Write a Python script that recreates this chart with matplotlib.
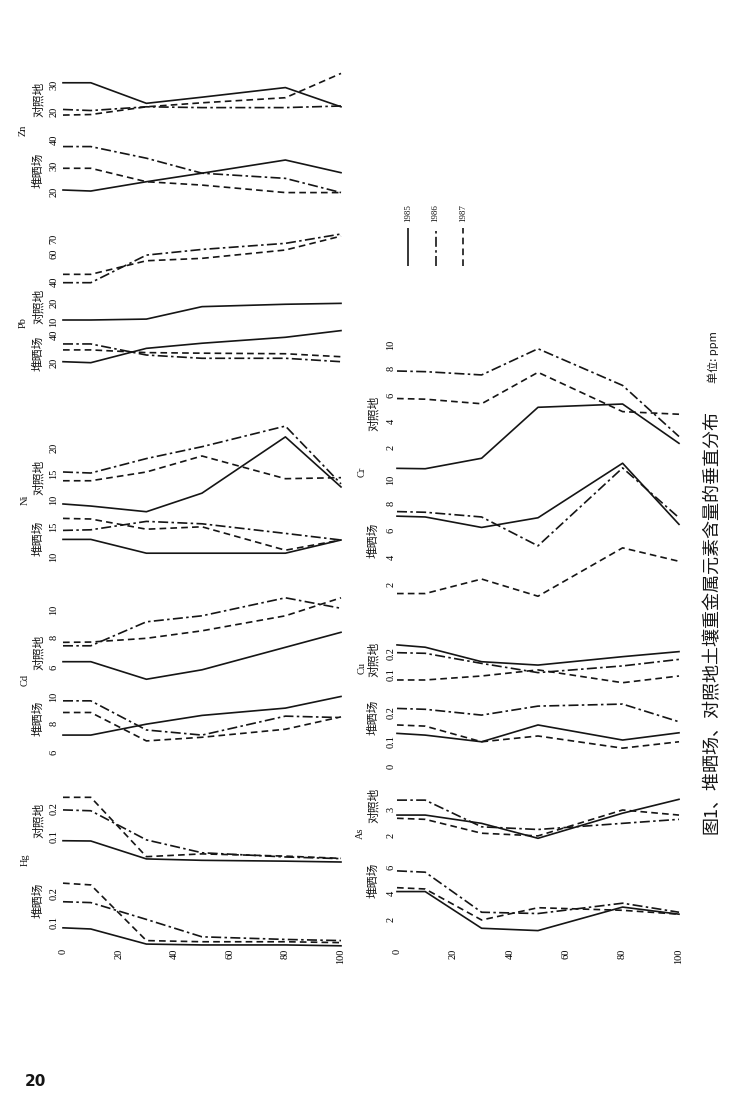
import matplotlib
matplotlib.use('Agg')
import matplotlib.pyplot as plt

plt.rcParams['font.family'] = ['Noto Sans CJK SC', 'DejaVu Sans']

# 深度 (cm) 与年份
depth = [0, 10, 30, 50, 80, 100]
depth_ticks = [0, 20, 40, 60, 80, 100]
years = ['1985', '1986', '1987']

# 每组三条线: 1985, 1986, 1987 (ppm)
zn_dz = [[30.2, 30.2, 22.5, 24.8, 28.4, 21.2],
         [20.2, 19.8, 21.2, 20.9, 20.9, 21.5],
         [18.1, 18.3, 21.2, 22.7, 24.6, 33.7]]
zn_ds = [[20.0, 19.6, 23.2, 26.5, 31.6, 26.7],
         [36.8, 36.8, 32.3, 26.5, 24.5, 19.0],
         [28.4, 28.4, 23.2, 21.9, 19.0, 19.0]]
pb_dz = [[10.0, 10.0, 10.5, 17.3, 18.6, 19.1],
         [38.1, 38.1, 57.6, 61.6, 65.9, 72.5],
         [44.0, 44.0, 53.6, 55.3, 61.2, 71.0]]
pb_ds = [[20.0, 19.3, 29.4, 33.0, 37.2, 41.9],
         [32.5, 32.5, 24.7, 22.4, 22.4, 20.0],
         [28.3, 28.3, 26.4, 26.0, 25.6, 23.5]]
ni_dz = [[8.9, 8.5, 7.4, 11.0, 21.9, 12.2],
         [15.1, 14.9, 17.7, 20.0, 24.0, 12.8],
         [13.4, 13.4, 15.1, 18.2, 13.8, 14.0]]
ni_ds = [[12.6, 12.6, 10.3, 10.3, 10.3, 12.5],
         [14.1, 14.2, 15.6, 15.2, 13.6, 12.5],
         [16.1, 16.0, 14.3, 14.7, 10.8, 12.5]]
cd_dz = [[6.44, 6.44, 5.27, 5.9, 7.4, 8.4],
         [7.5, 7.5, 9.1, 9.5, 10.7, 10.0],
         [7.73, 7.75, 8.0, 8.5, 9.5, 10.7]]
cd_ds = [[7.25, 7.25, 8.0, 8.6, 9.1, 9.9],
         [9.6, 9.6, 7.6, 7.25, 8.55, 8.45],
         [8.8, 8.8, 6.85, 7.1, 7.65, 8.5]]
hg_dz = [[0.076, 0.075, 0.011, 0.006, 0.003, 0.0],
         [0.186, 0.183, 0.079, 0.033, 0.018, 0.012],
         [0.231, 0.231, 0.019, 0.029, 0.021, 0.013]]
hg_ds = [[0.073, 0.069, 0.017, 0.014, 0.014, 0.011],
         [0.163, 0.160, 0.102, 0.042, 0.033, 0.029],
         [0.227, 0.221, 0.029, 0.025, 0.025, 0.022]]
cr_dz = [[0.47, 0.44, 1.24, 5.13, 5.38, 2.38],
         [7.9, 7.85, 7.6, 9.6, 6.8, 2.9],
         [5.8, 5.75, 5.4, 7.8, 4.8, 4.6]]
cr_ds = [[7.16, 7.1, 6.32, 7.04, 11.1, 6.55],
         [7.5, 7.45, 7.1, 4.95, 10.75, 7.04],
         [1.4, 1.4, 2.48, 1.2, 4.8, 3.8]]
cu_dz = [[0.229, 0.218, 0.149, 0.133, 0.173, 0.197],
         [0.192, 0.189, 0.141, 0.097, 0.129, 0.160],
         [0.062, 0.062, 0.081, 0.110, 0.049, 0.081]]
cu_ds = [[0.117, 0.111, 0.088, 0.146, 0.094, 0.119],
         [0.203, 0.200, 0.180, 0.211, 0.218, 0.157],
         [0.146, 0.142, 0.088, 0.108, 0.066, 0.088]]
as_dz = [[2.81, 2.81, 2.5, 1.94, 2.88, 3.4],
         [3.37, 3.37, 2.37, 2.27, 2.5, 2.65],
         [2.69, 2.65, 2.13, 2.03, 3.0, 2.81]]
as_ds = [[4.2, 4.2, 1.36, 1.18, 3.0, 2.45],
         [5.8, 5.7, 2.6, 2.5, 3.3, 2.6],
         [4.5, 4.4, 2.0, 2.95, 2.75, 2.45]]

W, H = 740, 1097
INK = '#151515'
styles = [dict(ls='-'), dict(dashes=(6, 2, 1.5, 2)), dict(dashes=(4, 2.5))]

fig = plt.figure(figsize=(W / 100, H / 100), dpi=100)
fig.patch.set_facecolor('white')

LEFT = (63, 341)
RIGHT = (397, 679)


def panel(col, ytop, ybot, cal, ticks, labels, pad):
    # cal: 两个刻度值及其在页面上的像素高度
    (v1, p1), (v2, p2) = cal
    k = (v2 - v1) / (p1 - p2)
    x0, x1 = col
    ax = fig.add_axes([x0 / W, 1 - ybot / H, (x1 - x0) / W, (ybot - ytop) / H])
    ax.set_xlim(0, 100)
    ax.set_ylim(v1 - (ybot - p1) * k, v1 + (p1 - ytop) * k)
    for s in ax.spines.values():
        s.set_visible(False)
    ax.patch.set_alpha(0)
    ax.set_xticks([])
    ax.set_yticks(ticks)
    ax.set_yticklabels(labels, rotation=90, fontsize=7.5, family='Liberation Serif')
    ax.tick_params(axis='y', length=0, pad=pad)
    return ax


def draw(ax, series, sty):
    for vals, st in zip(series, sty):
        ax.plot(depth, vals, color=INK, lw=1.2, clip_on=False, **st)


def rot_text(xpx, ypx, s, size, **kw):
    fig.text(xpx / W, 1 - ypx / H, s, rotation=90, ha='center', va='center',
             fontsize=size, color=INK, **kw)


def depth_axis(ax):
    ax.set_xticks(depth_ticks)
    ax.set_xticklabels([str(d) for d in depth_ticks], rotation=90, fontsize=7.5,
                       family='Liberation Serif')
    ax.tick_params(axis='x', length=0, pad=1.5)


# 左列
ax = panel(LEFT, 70, 120, ((20, 110), (30, 83.3)), [20, 30], ['20', '30'], 3.2)
draw(ax, zn_dz, styles)
ax = panel(LEFT, 135, 200, ((20, 190), (40, 138.3)), [20, 30, 40], ['20', '30', '40'], 3.2)
draw(ax, zn_ds, styles)

ax = panel(LEFT, 228, 290, ((40, 280), (60, 251.7)), [40, 60, 70], ['40', '60', '70'], 3.2)
draw(ax, pb_dz[1:], styles[1:])
ax = panel(LEFT, 296, 325, ((10, 320), (20, 301.7)), [10, 20], ['10', '20'], 3.2)
draw(ax, pb_dz[:1], styles[:1])
ax = panel(LEFT, 328, 368, ((20, 361.7), (40, 333.3)), [20, 40], ['20', '40'], 3.2)
draw(ax, pb_ds, styles)

ax = panel(LEFT, 420, 515, ((10, 498.3), (20, 446.7)), [10, 15, 20], ['10', '15', '20'], 3.2)
draw(ax, ni_dz, styles)
ax = panel(LEFT, 515, 560, ((10, 555), (15, 525)), [10, 15], ['10', '15'], 3.2)
draw(ax, ni_ds, styles)

ax = panel(LEFT, 595, 685, ((6, 668.3), (10, 608.3)), [6, 8, 10], ['6', '8', '10'], 3.2)
draw(ax, cd_dz, styles)
ax = panel(LEFT, 690, 760, ((6, 753.3), (10, 695)), [6, 8, 10], ['6', '8', '10'], 3.2)
draw(ax, cd_ds, styles)

ax = panel(LEFT, 795, 866, ((0.1, 834), (0.2, 806)), [0.1, 0.2], ['0.1', '0.2'], 3.2)
draw(ax, hg_dz, styles)
ax = panel(LEFT, 880, 947, ((0.1, 920), (0.2, 891)), [0.1, 0.2], ['0.1', '0.2'], 3.2)
draw(ax, hg_ds, styles)
depth_axis(ax)

# 右列
ax = panel(RIGHT, 340, 470, ((2, 448.3), (10, 343.5)), [2, 4, 6, 8, 10],
           ['2', '4', '6', '8', '10'], 1)
draw(ax, cr_dz, styles)
ax = panel(RIGHT, 478, 600, ((2, 585), (8, 501.7)), [2, 4, 6, 8, 10],
           ['2', '4', '6', '8', '10'], 1)
draw(ax, cr_ds, styles)

ax = panel(RIGHT, 640, 690, ((0.1, 672), (0.2, 651)), [0.1, 0.2], ['0.1', '0.2'], 1)
draw(ax, cu_dz, styles)
ax = panel(RIGHT, 700, 770, ((0, 767.3), (0.2, 709.3)), [0, 0.1, 0.2], ['0', '0.1', '0.2'], 1)
draw(ax, cu_ds, styles)

ax = panel(RIGHT, 795, 842, ((2, 836.7), (3, 810)), [2, 3], ['2', '3'], 1)
draw(ax, as_dz, styles)
ax = panel(RIGHT, 865, 947, ((2, 920), (6, 868.3)), [2, 4, 6], ['2', '4', '6'], 1)
draw(ax, as_ds, styles)
depth_axis(ax)

# 图例
leg = fig.add_axes([394 / W, 1 - 266 / H, 83 / W, 38 / H])
leg.set_xlim(-0.5, 2.5)
leg.set_ylim(0, 1)
leg.axis('off')
for i, (yr, st) in enumerate(zip(years, styles)):
    leg.plot([i, i], [0, 1], color=INK, lw=1.2, **st)
    leg.text(i, 1.15, yr, rotation=90, ha='center', va='bottom', fontsize=6.5,
             family='Liberation Serif', color=INK)

# 分组标签
for y, s in [(99, '对照地'), (170, '堆晒场'), (306, '对照地'), (353, '堆晒场'),
             (477, '对照地'), (538, '堆晒场'), (652, '对照地'), (718, '堆晒场'),
             (820, '对照地'), (900, '堆晒场')]:
    rot_text(38, y, s, 8.5)
for y, s in [(413, '对照地'), (540, '堆晒场'), (659, '对照地'), (717, '堆晒场'),
             (805, '对照地'), (880, '堆晒场')]:
    rot_text(373, y, s, 8.5)

# 元素
for x, y, s in [(23, 130, 'Zn'), (23, 323, 'Pb'), (25, 500, 'Ni'), (25, 680, 'Cd'),
                (25, 860, 'Hg'), (362, 472, 'Cr'), (362, 668, 'Cu'), (360, 833, 'As')]:
    rot_text(x, y, s, 7.5, family='Liberation Serif')

# 标题
rot_text(712, 622, '图1、堆晒场、对照地土壤重金属元素含量的垂直分布', 13)
rot_text(713, 357, '单位: ppm', 8)

fig.text(35 / W, 1 - 1082 / H, '20', fontsize=11, weight='bold', ha='center',
         va='center', family='DejaVu Sans', color=INK)

fig.savefig('out.png', dpi=100, facecolor='white')
